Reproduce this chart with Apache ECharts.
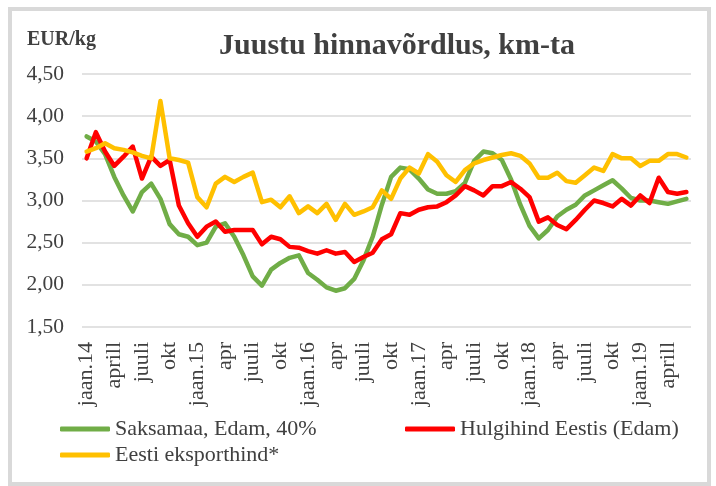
<!DOCTYPE html>
<html>
<head>
<meta charset="utf-8">
<script src="https://cdn.jsdelivr.net/npm/echarts@6/dist/echarts.min.js"></script>
<style>
  html, body { margin: 0; padding: 0; background: #fff; }
  #juustChart { width: 716px; height: 486px; }
</style>
</head>
<body>
<div id="juustChart"></div>
<script>
// kuud jaan.14 ... juuni.19, silt iga 3. kuu kohta
var months = [
  'jaan.14', 'veebr', 'märts', 'aprill', 'mai', 'juuni', 'juuli', 'aug', 'sept', 'okt', 'nov', 'dets',
  'jaan.15', 'veebr', 'märts', 'apr', 'mai', 'juuni', 'juuli', 'aug', 'sept', 'okt', 'nov', 'dets',
  'jaan.16', 'veebr', 'märts', 'apr', 'mai', 'juuni', 'juuli', 'aug', 'sept', 'okt', 'nov', 'dets',
  'jaan.17', 'veebr', 'märts', 'apr', 'mai', 'juuni', 'juuli', 'aug', 'sept', 'okt', 'nov', 'dets',
  'jaan.18', 'veebr', 'märts', 'apr', 'mai', 'juuni', 'juuli', 'aug', 'sept', 'okt', 'nov', 'dets',
  'jaan.19', 'veebr', 'märts', 'aprill', 'mai', 'juuni'
]

var saksamaa = [
  3.76, 3.70, 3.55, 3.28, 3.06, 2.87, 3.10, 3.20, 3.02, 2.72, 2.60, 2.57,
  2.47, 2.50, 2.69, 2.73, 2.57, 2.35, 2.10, 1.99, 2.18, 2.26, 2.32, 2.35,
  2.14, 2.06, 1.97, 1.93, 1.96, 2.07, 2.29, 2.57, 2.95, 3.28, 3.39, 3.37,
  3.26, 3.13, 3.08, 3.08, 3.11, 3.21, 3.47, 3.58, 3.56, 3.48, 3.25, 2.95,
  2.70, 2.55, 2.65, 2.81, 2.89, 2.95, 3.06, 3.12, 3.18, 3.24, 3.14, 3.03,
  3.00, 3.00, 2.98, 2.96, 2.99, 3.02
]

var hulgihind = [
  3.50, 3.81, 3.58, 3.41, 3.52, 3.64, 3.26, 3.52, 3.41, 3.48, 2.94, 2.73,
  2.57, 2.69, 2.75, 2.63, 2.65, 2.65, 2.65, 2.48, 2.57, 2.54, 2.45, 2.44,
  2.40, 2.37, 2.41, 2.37, 2.39, 2.27, 2.33, 2.38, 2.54, 2.60, 2.85, 2.83,
  2.89, 2.92, 2.93, 2.98, 3.06, 3.17, 3.12, 3.06, 3.17, 3.17, 3.22, 3.14,
  3.04, 2.75, 2.80, 2.71, 2.66, 2.77, 2.89, 3.00, 2.97, 2.93, 3.02, 2.94,
  3.06, 2.97, 3.27, 3.10, 3.08, 3.10
]

var eksport = [
  3.58, 3.62, 3.68, 3.62, 3.60, 3.57, 3.53, 3.50, 4.18, 3.50, 3.48, 3.45,
  3.04, 2.92, 3.20, 3.28, 3.22, 3.28, 3.33, 2.98, 3.01, 2.92, 3.05, 2.85,
  2.93, 2.85, 2.96, 2.77, 2.96, 2.83, 2.87, 2.92, 3.12, 3.02, 3.26, 3.39,
  3.32, 3.55, 3.46, 3.30, 3.22, 3.36, 3.44, 3.48, 3.51, 3.54, 3.56, 3.53,
  3.44, 3.27, 3.27, 3.33, 3.23, 3.21, 3.30, 3.39, 3.35, 3.55, 3.50, 3.50,
  3.41, 3.47, 3.47, 3.55, 3.55, 3.51
]

var serif = "'Liberation Serif', 'Times New Roman', serif"
var textColor = '#404040'

function lineSeries (name, color, data) {
  return {
    name: name,
    type: 'line',
    data: data,
    symbol: 'none',
    color: color,
    lineStyle: { width: 4.5, color: color, cap: 'round', join: 'round' }
  }
}

function legendItem (name, left, top) {
  return {
    data: [name],
    left: left,
    top: top,
    icon: 'roundRect',
    itemWidth: 50,
    itemHeight: 5,
    padding: 0,
    selectedMode: false,
    textStyle: { fontFamily: serif, fontSize: 22, color: textColor }
  }
}

var option = {
  animation: false,
  backgroundColor: '#fff',
  graphic: [
    {
      type: 'rect',
      shape: { x: 10, y: 9, width: 699, height: 475 },
      style: { fill: 'none', stroke: '#d9d9d9', lineWidth: 4 }
    },
    {
      type: 'text',
      x: 27,
      y: 40,
      style: { text: 'EUR/kg', font: 'bold 20px ' + serif, fill: textColor, verticalAlign: 'middle' }
    },
    {
      type: 'text',
      x: 397,
      y: 46,
      style: { text: 'Juustu hinnavõrdlus, km-ta', font: 'bold 30px ' + serif, fill: textColor, align: 'center', verticalAlign: 'middle' }
    }
  ],
  legend: [
    legendItem('Saksamaa, Edam, 40%', 60, 418),
    legendItem('Hulgihind Eestis (Edam)', 405, 418),
    legendItem('Eesti eksporthind*', 60, 444)
  ],
  grid: { left: 82, right: 25, top: 74, bottom: 159 },
  xAxis: {
    type: 'category',
    data: months,
    boundaryGap: true,
    axisLine: { show: false },
    axisTick: { show: false },
    axisLabel: {
      interval: 2,
      rotate: 90,
      margin: 15,
      fontFamily: serif,
      fontSize: 22,
      color: textColor
    }
  },
  yAxis: {
    type: 'value',
    min: 1.5,
    max: 4.5,
    interval: 0.5,
    axisLine: { show: false },
    axisTick: { show: false },
    splitLine: { lineStyle: { color: '#d9d9d9', width: 1.5 } },
    axisLabel: {
      margin: 18,
      fontFamily: serif,
      fontSize: 21.5,
      color: textColor,
      formatter: function (v) { return v.toFixed(2).replace('.', ',') }
    }
  },
  series: [
    lineSeries('Saksamaa, Edam, 40%', '#70ad47', saksamaa),
    lineSeries('Hulgihind Eestis (Edam)', '#ff0000', hulgihind),
    lineSeries('Eesti eksporthind*', '#ffc000', eksport)
  ]
}

var myChart = echarts.init(document.getElementById('juustChart'))
myChart.setOption(option)
</script>
</body>
</html>
